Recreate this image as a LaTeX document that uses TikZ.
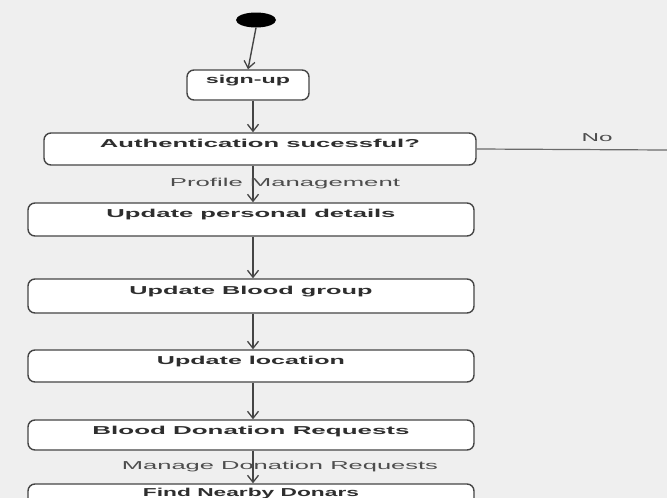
\documentclass[tikz,border=0pt]{standalone}
\usepackage{fontspec}
\usepackage{graphicx}
\setmainfont{Liberation Sans}
\usetikzlibrary{arrows.meta,shapes.geometric}
\definecolor{txt}{HTML}{2E2E2E}
\definecolor{edge}{HTML}{454545}
\definecolor{bg}{HTML}{EFEFEF}
\newcommand{\stretchtxt}[2]{\resizebox{#1pt}{\height}{#2}}
\tikzset{
  actbox/.style={draw=edge, line width=1.4pt, fill=white, rounded corners=7pt,
    minimum height=32pt, inner sep=0pt, text height=8pt, text depth=12pt,
    font=\fontsize{11.5}{13}\selectfont\bfseries, text=txt},
  flow/.style={draw=edge, line width=1.4pt, -{Straight Barb[length=7pt,width=11pt,line width=1.3pt]}},
  plainline/.style={draw=edge!80, line width=1.2pt},
  lbl/.style={font=\fontsize{11.5}{13}\selectfont, text=txt!85, inner sep=0pt}
}
\begin{document}
\begin{tikzpicture}[x=1pt,y=-1pt]
\useasboundingbox (0,0) rectangle (667,498);
\fill[bg] (0,0) rectangle (667,498);
\clip (0,0) rectangle (667,498);
\coordinate (col) at (253,0);
\coordinate (noend) at (667,150);

\node[ellipse, fill=black, minimum width=40pt, minimum height=15pt, inner sep=0pt] (start) at (256,20) {};
\node[actbox, minimum width=122pt, minimum height=30pt, text depth=11pt] (signup) at (248,85) {\stretchtxt{84}{sign-up}};
\node[actbox, minimum width=432pt] (auth) at (260,149) {\stretchtxt{320}{Authentication sucessful?}};
\node[actbox, minimum width=446pt, minimum height=33pt] (personal) at (251,219.5) {\stretchtxt{289}{Update personal details}};
\node[actbox, minimum width=446pt, minimum height=34pt] (blood) at (251,296) {\stretchtxt{243}{Update Blood group}};
\node[actbox, minimum width=446pt] (location) at (251,366) {\stretchtxt{188}{Update location}};
\node[actbox, minimum width=446pt, minimum height=30pt, text depth=10pt] (requests) at (251,435) {\stretchtxt{317}{Blood Donation Requests}};
\node[actbox, minimum width=446pt, minimum height=30pt, text depth=14pt] (donars) at (251,499) {\stretchtxt{216}{Find Nearby Donars}};

\draw[flow] (start.south) -- (signup.north);
\draw[flow] (signup.south -| col) -- (auth.north -| col);
\draw[flow] (auth.south -| col) -- (personal.north -| col);
\draw[flow] (personal.south -| col) -- (blood.north -| col);
\draw[flow] (blood.south -| col) -- (location.north -| col);
\draw[flow] (location.south -| col) -- (requests.north -| col);
\draw[flow] (requests.south -| col) -- (donars.north -| col);
\draw[plainline] (auth.east) -- (noend);

\node[lbl] (nolbl) at (597,138) {\stretchtxt{31}{No}};
\node[lbl] (profile) at (285,184) {\stretchtxt{230}{Profile Management}};
\node[lbl] (manage) at (280,467) {\stretchtxt{316}{Manage Donation Requests}};
\end{tikzpicture}
\end{document}
